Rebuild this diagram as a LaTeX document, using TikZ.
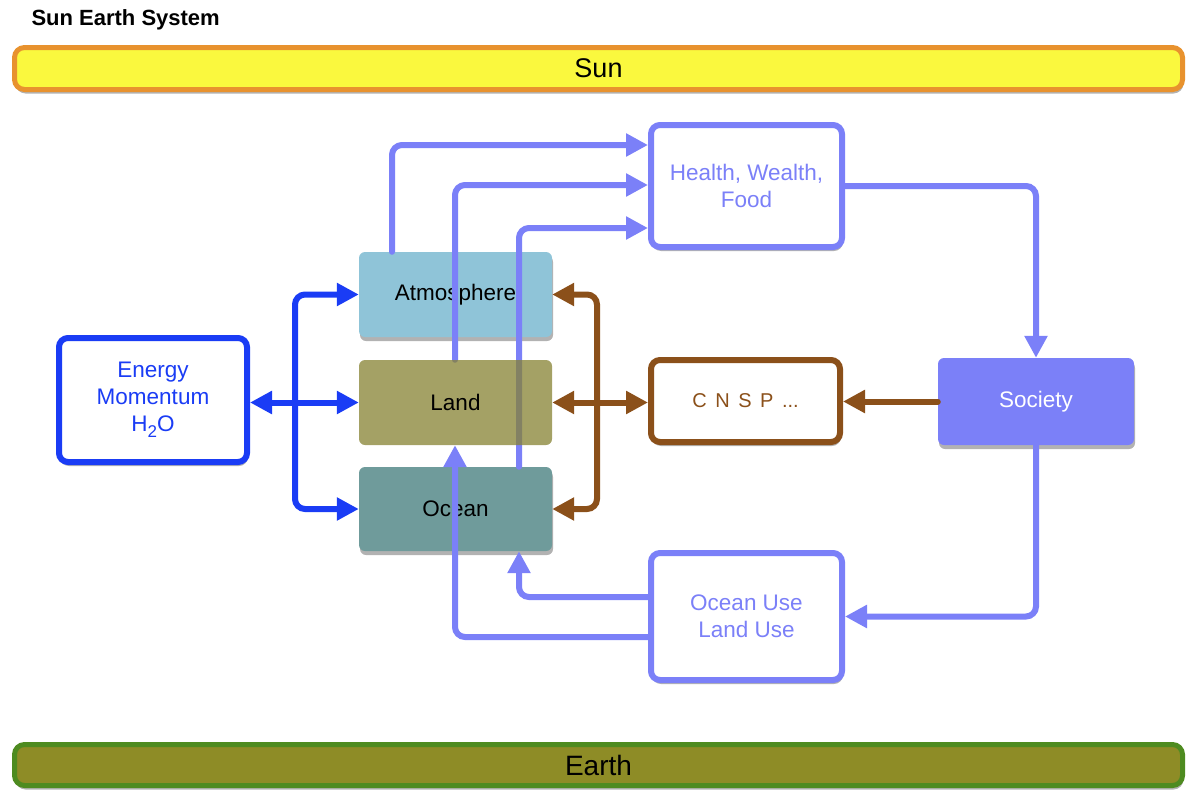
\documentclass[tikz,border=0pt]{standalone}
\usepackage{fontspec}
\setmainfont{Liberation Sans}
\usetikzlibrary{arrows.meta,shadows}
\pgfdeclarelayer{fg}
\pgfsetlayers{main,fg}
\definecolor{sunfill}{RGB}{250,248,62}
\definecolor{sunline}{RGB}{232,146,46}
\definecolor{earthfill}{RGB}{142,140,38}
\definecolor{earthline}{RGB}{78,139,32}
\definecolor{atmfill}{RGB}{143,196,216}
\definecolor{landfill}{RGB}{134,130,50}
\definecolor{oceanfill}{RGB}{111,155,155}
\definecolor{cblue}{RGB}{26,60,245}
\definecolor{cpurple}{RGB}{123,128,248}
\definecolor{cbrown}{RGB}{139,80,26}
\begin{document}
\begin{tikzpicture}[x=1pt,y=-1pt,
  >={Triangle[length=22pt,width=22pt]},
  shad/.style={drop shadow={shadow xshift=1pt,shadow yshift=-4pt,opacity=0.3,fill=black}},
  txt/.style={font=\fontsize{22.5}{27}\selectfont, align=center},
  esbase/.style={rounded corners=6pt, minimum width=193pt, minimum height=85pt, txt, text=black},
  esbox/.style={shad, esbase},
  framebox/.style={shad, draw, line width=6pt, fill=white, rounded corners=9pt, txt},
  bar/.style={shad, line width=5pt, rounded corners=10pt, minimum width=1168pt, font=\fontsize{27}{30}\selectfont},
  conn/.style={line width=6pt, rounded corners=10pt},
]
\useasboundingbox (0,0) rectangle (1187,790);
\node[anchor=west, font=\fontsize{22}{26}\selectfont\bfseries] (title) at (28,20) {Sun Earth System};
\node[bar, draw=sunline, fill=sunfill, minimum height=42pt] (sun) at (598.5,68.5) {Sun};
\node[bar, draw=earthline, fill=earthfill, minimum height=41pt, font=\fontsize{28}{30}\selectfont] (earth) at (598.5,765) {Earth};

\node[esbox, fill=atmfill] (atm) at (455.5,294.5) {Atmosphere};
\node[esbox, fill=oceanfill, minimum height=84pt] (ocean) at (455.5,509) {Ocean};
\begin{pgfonlayer}{fg}
\node[esbase, fill=landfill, fill opacity=0.75, text opacity=1] (land) at (455.5,402.5) {Land};
\end{pgfonlayer}

\node[framebox, draw=cblue, text=cblue, minimum width=188pt, minimum height=124pt] (energy) at (153,400) {Energy\\Momentum\\H\raisebox{-6pt}{\fontsize{17}{17}\selectfont 2}O};
\node[framebox, draw=cpurple, text=cpurple, minimum width=191pt, minimum height=122pt] (health) at (746.5,186) {Health, Wealth,\\Food};
\node[framebox, draw=cbrown, text=cbrown, minimum width=189pt, minimum height=82pt, font=\fontsize{20}{24}\selectfont] (cnsp) at (745.5,401) {C\kern3pt{} N\kern3pt{} S\kern3pt{} P\kern3pt{} ...};
\node[shad, fill=cpurple, rounded corners=6pt, minimum width=196pt, minimum height=87pt, txt, text=white] (soc) at (1036,401.5) {Society};
\node[framebox, draw=cpurple, text=cpurple, minimum width=191pt, minimum height=127pt] (ouse) at (746.5,616.5) {Ocean Use\\Land Use};

% blue connectors
\coordinate (bb) at (295,402.5);
\draw[conn, cblue, <->] (energy.east |- bb) -- (land.west);
\draw[conn, cblue, ->] (bb) |- (atm.west);
\draw[conn, cblue, ->] (bb) |- (ocean.west);

% brown connectors
\coordinate (rb) at (597,402.5);
\draw[conn, cbrown, <->] (land.east) -- (cnsp.west |- land.east);
\draw[conn, cbrown, ->] (rb) |- (atm.east);
\draw[conn, cbrown, ->] (rb) |- (ocean.east);
\draw[conn, cbrown, ->, line cap=round] (soc.west) -- (cnsp.east |- soc.west);

% purple connectors
\coordinate (x1) at (392,145);
\coordinate (x2) at (455,185);
\coordinate (x3) at (519,228);
\coordinate (y4) at (0,597);
\coordinate (y5) at (0,637);
\draw[conn, cpurple, ->, line cap=round] (atm.north -| x1) |- (health.west |- x1);
\draw[conn, cpurple, ->, line cap=round] (land.north -| x2) |- (health.west |- x2);
\draw[conn, cpurple, ->, line cap=round] (ocean.north -| x3) |- (health.west |- x3);
\draw[conn, cpurple, ->] (health.east) -| (soc.north);
\draw[conn, cpurple, ->] (soc.south) |- (ouse.east);
\draw[conn, cpurple, ->] (ouse.west |- y4) -| (ocean.south -| x3);
\draw[conn, cpurple, ->] (ouse.west |- y5) -| (land.south -| x2);
\end{tikzpicture}
\end{document}
